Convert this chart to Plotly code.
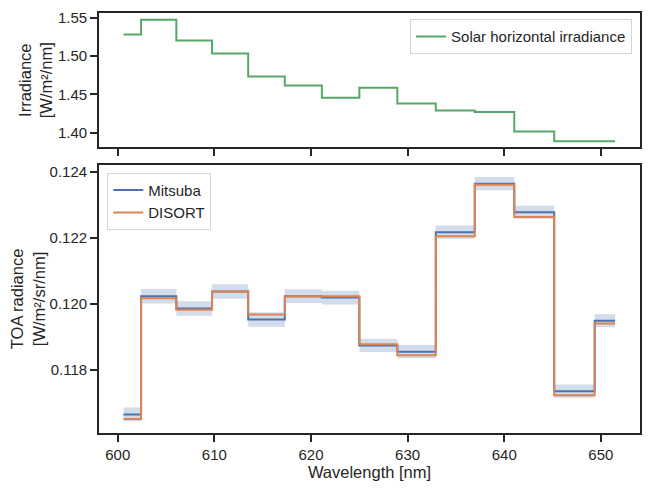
import plotly.graph_objects as go

# ---- data ----
wavelength = [600.60, 604.23, 607.90, 611.62, 615.38, 619.20, 623.05,
              626.96, 630.91, 634.92, 638.98, 643.09, 647.25, 651.47]
irradiance = [1.5283, 1.5478, 1.5204, 1.5035, 1.4735, 1.4617, 1.4457,
              1.4587, 1.4383, 1.4291, 1.4270, 1.4017, 1.3887, 1.3887]
mitsuba = [0.116638, 0.120230, 0.119855, 0.120370, 0.119523, 0.120230, 0.120188,
           0.118735, 0.118545, 0.122175, 0.123649, 0.122781, 0.117344, 0.119483]
mitsuba_err = [0.00021, 0.00022, 0.00022, 0.00022, 0.00022, 0.00021, 0.00021,
               0.00020, 0.00020, 0.00020, 0.00020, 0.00020, 0.00020, 0.00020]
disort = [0.116497, 0.120170, 0.119815, 0.120370, 0.119673, 0.120220, 0.120230,
          0.118766, 0.118433, 0.122054, 0.123618, 0.122639, 0.117223, 0.119401]

BLUE = "#4C72B0"
ORANGE = "#DD8452"
GREEN = "#55A868"
INK = "#262626"
FONT = "Liberation Sans, Arial, sans-serif"

lower = [m - e for m, e in zip(mitsuba, mitsuba_err)]
upper = [m + e for m, e in zip(mitsuba, mitsuba_err)]

fig = go.Figure()

fig.add_trace(go.Scatter(x=wavelength, y=irradiance, mode="lines",
                         line=dict(color=GREEN, width=2, shape="hvh"),
                         name="Solar horizontal irradiance",
                         xaxis="x2", yaxis="y2", legend="legend2"))

fig.add_trace(go.Scatter(x=wavelength, y=lower, mode="lines",
                         line=dict(color="rgba(0,0,0,0)", width=0, shape="hvh"),
                         showlegend=False, hoverinfo="skip"))
fig.add_trace(go.Scatter(x=wavelength, y=upper, mode="lines", fill="tonexty",
                         fillcolor="rgba(76,114,176,0.25)",
                         line=dict(color="rgba(0,0,0,0)", width=0, shape="hvh"),
                         showlegend=False, hoverinfo="skip"))
fig.add_trace(go.Scatter(x=wavelength, y=mitsuba, mode="lines",
                         line=dict(color=BLUE, width=2, shape="hvh"),
                         name="Mitsuba"))
fig.add_trace(go.Scatter(x=wavelength, y=disort, mode="lines",
                         line=dict(color=ORANGE, width=2, shape="hvh"),
                         name="DISORT"))

axis_common = dict(showline=True, linecolor=INK, linewidth=1.7, mirror=True,
                   ticks="outside", ticklen=7, tickwidth=1.5, tickcolor=INK,
                   showgrid=False, zeroline=False,
                   tickfont=dict(family=FONT, size=15, color=INK))

fig.update_layout(
    width=651, height=491,
    margin=dict(l=99, r=9, t=11, b=58),
    paper_bgcolor="white", plot_bgcolor="white",
    font=dict(family=FONT, size=15, color=INK),
    xaxis=dict(range=[598.06, 654.05], domain=[0, 1], anchor="y", dtick=10,
               title=dict(text="Wavelength [nm]", standoff=3,
                          font=dict(family=FONT, size=16.5, color=INK)),
               **axis_common),
    yaxis=dict(range=[0.116073, 0.12422], domain=[0, 0.6384], anchor="x",
               tickvals=[0.118, 0.120, 0.122, 0.124], tickformat=".3f",
               title=dict(text="TOA radiance<br>[W/m²/sr/nm]", standoff=0,
                          font=dict(family=FONT, size=16.5, color=INK)),
               **axis_common),
    xaxis2=dict(range=[598.06, 654.05], domain=[0, 1], anchor="y2", dtick=10,
                matches="x", showticklabels=False, **axis_common),
    yaxis2=dict(range=[1.3808, 1.5565], domain=[0.680, 1], anchor="x2",
                tickvals=[1.40, 1.45, 1.50, 1.55], tickformat=".2f",
                title=dict(text="Irradiance<br>[W/m²/nm]", standoff=1,
                           font=dict(family=FONT, size=16.5, color=INK)),
                **axis_common),
    legend=dict(x=0.0153, y=0.6194, xanchor="left", yanchor="top",
                traceorder="normal",
                bgcolor="rgba(255,255,255,0.8)", bordercolor="#d5d5d5",
                borderwidth=1, font=dict(family=FONT, size=15, color=INK),
                tracegroupgap=0),
    legend2=dict(x=0.9853, y=0.985, xanchor="right", yanchor="top",
                 bgcolor="rgba(255,255,255,0.8)", bordercolor="#d5d5d5",
                 borderwidth=1, font=dict(family=FONT, size=15, color=INK)),
)

fig.write_html("out.html")
